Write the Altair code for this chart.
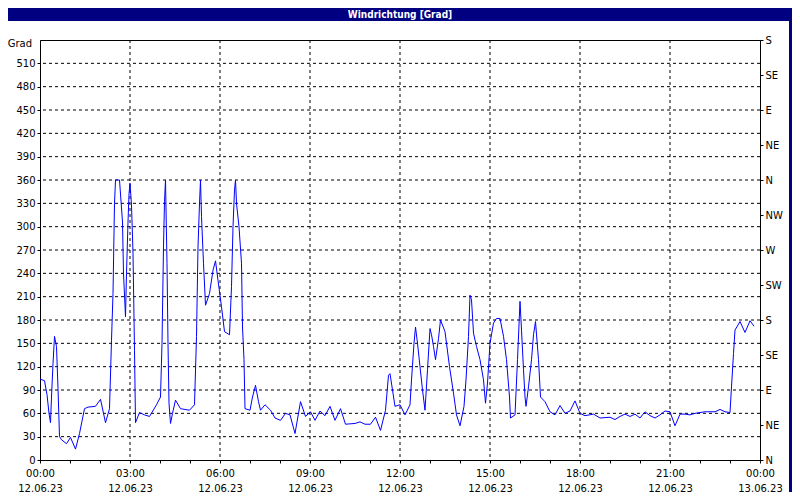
import json
import altair as alt
import pandas as pd

# ---- data (minutes after 12.06.23 00:00, direction in degrees)
minutes = [0, 9, 14, 18, 21, 23, 26, 29, 33, 36, 39, 43, 53, 61, 71, 79, 89, 96, 111, 121,
           131, 139, 143, 146, 149, 151, 159, 161, 165, 167, 171, 173, 176, 178, 180, 183, 186, 189, 191, 199,
           209, 219, 233, 241, 244, 247, 249, 251, 254, 256, 258, 261, 265, 271, 281, 299, 309, 313, 316, 319,
           321, 323, 327, 331, 339, 346, 351, 356, 363, 369, 379, 383, 386, 389, 391, 393, 398, 403, 405, 408,
           410, 420, 425, 431, 437, 441, 450, 461, 470, 481, 491, 500, 510, 521, 531, 541, 550, 560, 570, 580,
           590, 601, 611, 630, 640, 650, 661, 671, 681, 691, 697, 700, 705, 710, 720, 730, 740, 743, 748, 751,
           755, 760, 765, 770, 775, 780, 783, 787, 791, 797, 801, 810, 819, 827, 833, 840, 848, 852, 857, 860,
           863, 867, 873, 880, 887, 891, 895, 900, 907, 913, 920, 927, 933, 939, 941, 950, 955, 960, 963, 967,
           970, 972, 977, 983, 987, 991, 997, 1001, 1010, 1020, 1030, 1040, 1050, 1060, 1070, 1080, 1090, 1107, 1120, 1140,
           1150, 1160, 1170, 1180, 1190, 1200, 1210, 1220, 1230, 1240, 1250, 1260, 1270, 1280, 1290, 1300, 1310, 1320, 1330, 1350,
           1360, 1370, 1380, 1383, 1387, 1390, 1400, 1410, 1420, 1428]
direction = [104, 102, 84, 60, 48, 81, 124, 159, 146, 92, 30, 26, 21, 29, 14, 34, 66, 68, 69, 78,
             48, 66, 154, 214, 330, 360, 360, 342, 306, 240, 184, 240, 306, 342, 356, 328, 266, 141, 48, 61,
             58, 56, 71, 81, 150, 274, 332, 360, 253, 150, 73, 47, 60, 77, 66, 64, 71, 159, 274, 330,
             360, 313, 253, 199, 214, 244, 256, 231, 197, 165, 161, 223, 300, 347, 360, 330, 300, 253, 171, 129,
             66, 64, 81, 96, 75, 64, 71, 64, 54, 51, 60, 58, 34, 75, 56, 62, 51, 63, 57, 69,
             51, 66, 46, 47, 49, 46, 46, 55, 38, 64, 109, 111, 90, 69, 71, 58, 71, 103, 150, 171,
             150, 120, 90, 64, 116, 169, 161, 146, 129, 156, 180, 165, 120, 86, 58, 44, 69, 103, 159, 212,
             206, 163, 146, 129, 103, 73, 99, 150, 176, 182, 182, 159, 129, 81, 54, 58, 129, 204, 167, 116,
             81, 69, 94, 129, 161, 178, 129, 81, 75, 62, 58, 70, 60, 63, 76, 60, 57, 59, 54, 55,
             52, 56, 59, 56, 59, 54, 62, 57, 54, 58, 63, 62, 44, 59, 59, 58, 60, 61, 62, 62,
             65, 62, 61, 94, 137, 167, 178, 164, 179, 172]

title_text = "Windrichtung [Grad]"
unit_label = "Grad"
y_left_ticks = list(range(0, 540, 30))
y_grid_values = list(range(30, 540, 30))
compass_values = list(range(0, 541, 45))
compass_labels = ["N", "NE", "E", "SE", "S", "SW", "W", "NW", "N", "NE", "E", "SE", "S"]
x_tick_values = list(range(0, 1441, 60))
x_grid_values = list(range(180, 1440, 180))
x_label_times = ["00:00", "03:00", "06:00", "09:00", "12:00", "15:00", "18:00", "21:00", "00:00"]
x_label_dates = ["12.06.23"] * 8 + ["13.06.23"]

FONT = "DejaVu Sans"
NAVY = "#000080"
W, H = 720, 420
PAD_L, PAD_T, PAD_R, PAD_B = 32, 32, 32, 32

df_line = pd.DataFrame({"minute": minutes, "dir": direction})
df_ygrid = pd.DataFrame({"v": y_grid_values})
df_xgrid = pd.DataFrame({"m": x_grid_values})
df_unit = pd.DataFrame({"v": [540], "t": [unit_label]})
df_title = pd.DataFrame({"t": [title_text]})

x_scale = alt.Scale(domain=[0, 1440], nice=False, zero=False)
x_axis = alt.Axis(
    values=x_tick_values, title=None, grid=False,
    labelExpr=f"datum.value % 180 == 0 ? [{json.dumps(x_label_times)}[datum.value/180], {json.dumps(x_label_dates)}[datum.value/180]] : ''",
    labelOverlap=False, labelFlush=False, labelBound=False,
    tickSize=3, labelPadding=5, labelBaseline="top", labelLineHeight=15,
    domainColor="black", tickColor="black",
)
y_scale = alt.Scale(domain=[0, 540], nice=False)

ygrid = alt.Chart(df_ygrid).mark_rule(color="black", strokeDash=[3, 3], strokeWidth=1).encode(
    y=alt.Y("v:Q", scale=y_scale, axis=alt.Axis(
        values=y_left_ticks, title=None, grid=False, tickSize=3, labelPadding=2,
        domainColor="black", tickColor="black", labelOverlap=False, labelBound=False, labelFlush=False))
)
xgrid = alt.Chart(df_xgrid).mark_rule(color="black", strokeDash=[3, 3], strokeWidth=1).encode(
    x=alt.X("m:Q", scale=x_scale, axis=x_axis)
)
line = alt.Chart(df_line).mark_line(color="#0000FF", strokeWidth=1).encode(
    x=alt.X("minute:Q", scale=x_scale, axis=x_axis),
    y=alt.Y("dir:Q", scale=y_scale, axis=alt.Axis(
        orient="right", values=compass_values, title=None, grid=False, tickSize=3, labelPadding=2,
        labelExpr=f"{json.dumps(compass_labels)}[round(datum.value/45)]",
        domainColor="black", tickColor="black", labelOverlap=False, labelBound=False, labelFlush=False))
)
unit = alt.Chart(df_unit).mark_text(align="right", baseline="middle", dy=4, font=FONT, fontSize=10,
                                   color="black").encode(
    x=alt.value(-8), y=alt.Y("v:Q", scale=y_scale, axis=None), text="t:N"
)
title_bar = alt.Chart(df_title).mark_rect(color=NAVY).encode(
    x=alt.value(-PAD_L), x2=alt.value(W + PAD_R), y=alt.value(-PAD_T), y2=alt.value(-PAD_T + 13)
)
title = alt.Chart(df_title).mark_text(color="white", font="DejaVu Sans Condensed, DejaVu Sans", fontSize=10,
                                      fontWeight="bold", baseline="middle", align="center").encode(
    x=alt.value(W / 2), y=alt.value(-PAD_T + 6.5), text="t:N"
)
right_border = alt.Chart(df_title).mark_rect(color=NAVY).encode(
    x=alt.value(W + PAD_R - 3), x2=alt.value(W + PAD_R), y=alt.value(-PAD_T), y2=alt.value(H + PAD_B)
)

chart = alt.layer(ygrid, xgrid, line, unit, title_bar, title, right_border).resolve_scale(
    y="independent"
).properties(
    width=W, height=H,
    padding={"left": PAD_L, "top": PAD_T, "right": PAD_R, "bottom": PAD_B},
    autosize=alt.AutoSizeParams(type="none"),
    background="white",
).configure_view(
    stroke="black", strokeWidth=1
).configure_axis(
    labelFont=FONT, labelFontSize=10, labelColor="black"
)

chart.save("out.html", embed_options={"renderer": "svg", "actions": False})
